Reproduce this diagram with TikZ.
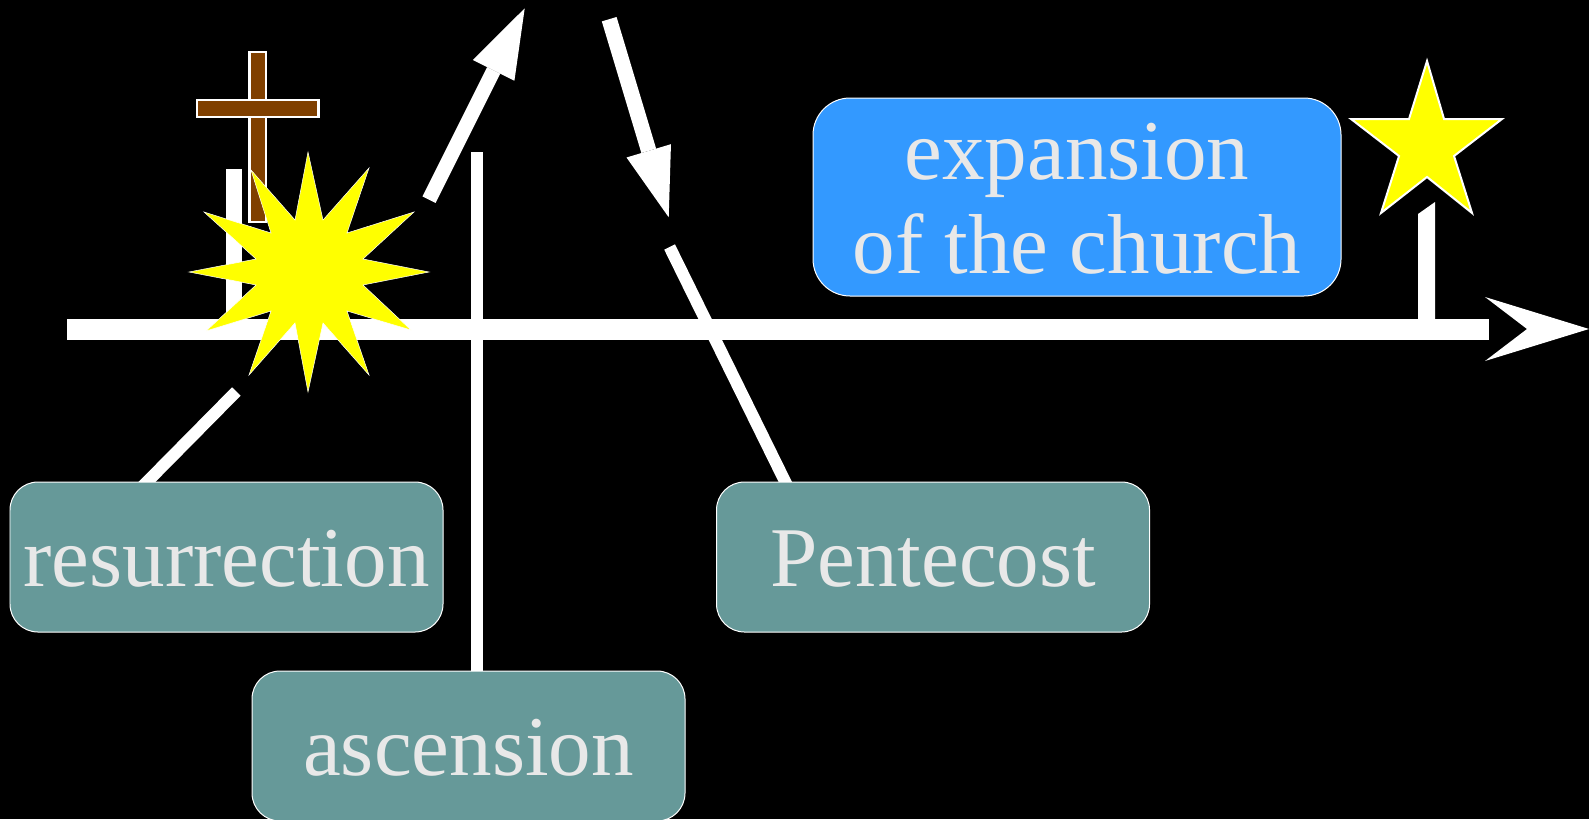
\documentclass[tikz,border=0pt]{standalone}
\usepackage{fontspec}
\setmainfont{Liberation Serif}
\usetikzlibrary{arrows.meta,backgrounds}
\definecolor{tealfill}{HTML}{669999}
\definecolor{bluefill}{HTML}{3399FF}
\definecolor{crossbrown}{HTML}{804000}
\definecolor{labeltext}{HTML}{E8E8E8}
\definecolor{burstyellow}{HTML}{FFFF00}
\tikzset{
  label box/.style={draw=white, line width=0.01cm, text=labeltext, inner sep=0, align=center,
    font=\fontsize{24.2}{26.65}\selectfont},
  tealbox/.style={label box, fill=tealfill, rounded corners=0.28cm, minimum width=4.33cm, minimum height=1.5cm,
    text height=0.59cm, text depth=0.005cm},
  bluebox/.style={label box, fill=bluefill, rounded corners=0.37cm, minimum width=5.28cm, minimum height=1.98cm,
    text height=1.53cm, text depth=0.01cm},
  thinbar/.style={white, line width=0.12cm},
  tick bar/.style={white, line width=0.16cm},
  head arrow/.style={white, -{Triangle[length=0.694cm,width=0.464cm,line width=0pt]}},
  yellow shape/.style={fill=burstyellow, draw=white, miter limit=20}
}

\begin{document}
\begin{tikzpicture}

\path[use as bounding box] (0,0) rectangle (15.89,8.19);

\node [bluebox] (expansion) at (10.77,6.22) {expansion\\of the church};
\node [tealbox] (resurrection) at (2.265,2.62) {resurrection};
\node [tealbox] (ascension) at (4.685,0.73) {ascension};
\node [tealbox] (pentecost) at (9.33,2.62) {Pentecost};

\coordinate (resurrection end) at (2.363,4.275);
\coordinate (ascension end) at (4.77,6.67);
\coordinate (pentecost end) at (6.696,5.72);
\coordinate (up tail) at (4.29,6.193);
\coordinate (up tip) at (5.247,8.107);
\coordinate (down tail) at (6.092,7.998);
\coordinate (down tip) at (6.687,6.017);
\coordinate (time start) at (0.67,4.90);
\coordinate (time end) at (14.89,4.90);
\coordinate (cross tick top) at (2.337,6.497);
\coordinate (cross tick foot) at (2.337,4.90);

\begin{scope}[on background layer]
\fill[black] (0,0) rectangle (15.89,8.19);
\draw[thinbar] ([shift={(-0.89,-0.1)}]resurrection.north) -- (resurrection end);
\draw[thinbar] ([shift={(0.085,-0.1)}]ascension.north) -- (ascension end);
\draw[thinbar] ([shift={(-1.43,-0.1)}]pentecost.north) -- (pentecost end);
\end{scope}

\draw[head arrow, line width=0.147cm] (up tail) -- (up tip);
\draw[head arrow, line width=0.154cm] (down tail) -- (down tip);

\draw[white, line width=0.21cm] (time start) -- (time end);
\fill[white] (14.85,5.22) -- (15.89,4.90) -- (14.85,4.58) -- (15.27,4.90) -- cycle;

\draw[tick bar] (cross tick top) -- (cross tick foot);
\fill[white] (14.18,4.90) -- (14.18,6.05) -- (14.35,6.17) -- (14.35,4.90) -- cycle;

\draw[fill=crossbrown, draw=white, line width=0.024cm] (2.495,7.668) rectangle (2.658,5.969);
\draw[fill=crossbrown, draw=white, line width=0.024cm] (1.969,7.188) rectangle (3.185,7.022);

\draw[yellow shape, line width=0.005cm] (3.08,6.67) -- (3.23,5.99) -- (3.69,6.51) -- (3.47,5.86)
  -- (4.14,6.07) -- (3.63,5.60) -- (4.29,5.47) -- (3.63,5.34) -- (4.11,4.89) -- (3.47,5.08)
  -- (3.69,4.44) -- (3.23,4.96) -- (3.08,4.27) -- (2.95,4.96) -- (2.49,4.44) -- (2.71,5.08)
  -- (2.06,4.88) -- (2.56,5.34) -- (1.89,5.47) -- (2.56,5.60) -- (2.04,6.07) -- (2.71,5.86)
  -- (2.51,6.49) -- (2.95,5.99) -- cycle;

\draw[yellow shape, line width=0.02cm] (14.27,7.58) -- (14.44,7.00) -- (15.02,7.00) -- (14.54,6.63)
  -- (14.72,6.06) -- (14.27,6.42) -- (13.81,6.06) -- (13.99,6.63) -- (13.51,7.00) -- (14.09,7.00) -- cycle;

\end{tikzpicture}
\end{document}
